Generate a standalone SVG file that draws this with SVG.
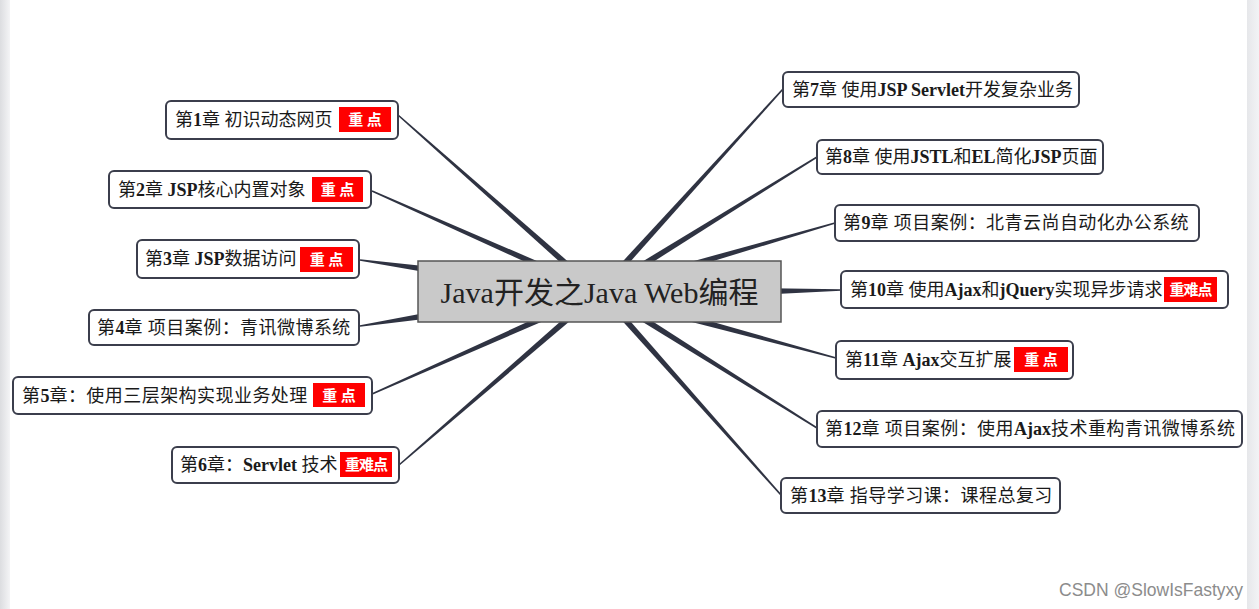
<svg xmlns="http://www.w3.org/2000/svg" width="1259" height="609" viewBox="0 0 1259 609">
<defs>
<linearGradient id="lg" x1="0" x2="1" y1="0" y2="0"><stop offset="0" stop-color="#dcdde0"/><stop offset="1" stop-color="#f4f4f6"/></linearGradient>
<linearGradient id="rg" x1="0" x2="1" y1="0" y2="0"><stop offset="0" stop-color="#e6e7ea"/><stop offset="1" stop-color="#f2f3f5"/></linearGradient>
</defs>
<style>
.box{fill:#fff;stroke:#3b3e4c;stroke-width:2}
.t{font-family:"Liberation Serif","Noto Sans CJK SC",serif;font-size:18px;fill:#1a1a1a}
.s{letter-spacing:0.45px}
.b{font-weight:bold;letter-spacing:0}
.bd{fill:#ff0000}
.bt{font-family:"Noto Sans CJK SC","Liberation Sans",sans-serif;font-size:15px;font-weight:bold;fill:#fff;text-anchor:middle}
.c{fill:#2f3342}
</style>
<rect x="0" y="0" width="1259" height="609" fill="#fff"/>
<rect x="0" y="0" width="10" height="609" fill="url(#lg)"/>
<rect x="1247" y="0" width="12" height="609" fill="url(#rg)"/>
<g id="connectors">
<polygon class="c" points="572.5,265.4 398.5,114.4 397.5,115.6 568.5,269.8"/>
<polygon class="c" points="540.3,262.4 372.3,190.3 371.7,191.7 537.9,267.8"/>
<polygon class="c" points="428.3,266.4 360.1,259.2 359.9,260.8 427.5,272.4"/>
<polygon class="c" points="427.4,312.5 359.9,325.2 360.1,326.8 428.4,318.5"/>
<polygon class="c" points="539.9,316.2 371.7,393.3 372.3,394.7 542.3,321.6"/>
<polygon class="c" points="568.6,314.2 398.5,464.4 399.5,465.6 572.6,318.8"/>
<polygon class="c" points="622.5,270.4 783.6,89.5 782.4,88.5 618.1,266.4"/>
<polygon class="c" points="642.1,268.9 817.4,157.7 816.6,156.3 638.9,263.7"/>
<polygon class="c" points="685.6,269.5 835.2,223.8 834.8,222.2 684.0,263.7"/>
<polygon class="c" points="771.1,294.2 841,290.8 841,289.2 770.9,288.2"/>
<polygon class="c" points="686.9,320.7 835.8,358.8 836.2,357.2 688.5,314.9"/>
<polygon class="c" points="639.9,320.2 816.6,428.7 817.4,427.3 643.1,315.2"/>
<polygon class="c" points="619.2,317.5 780.4,495.5 781.6,494.5 623.6,313.5"/>
</g>
<g id="center">
<rect x="418" y="261" width="363" height="61" fill="#c9c9c9" stroke="#555" stroke-width="1.5"/>
<text x="599.5" y="303" font-family="Liberation Serif,Noto Sans CJK SC,serif" font-size="30" fill="#222" text-anchor="middle">Java开发之Java Web编程</text>
</g>
<g id="n1">
<rect class="box" x="166" y="101" width="232" height="38" rx="5"/>
<text class="t" x="175" y="126">第<tspan class="b">1</tspan>章 初识动态网页</text>
<rect class="bd" x="339" y="107" width="52" height="25"/><text class="bt" x="365" y="125">重 点</text>
</g>
<g id="n2">
<rect class="box" x="109" y="171" width="262" height="37" rx="5"/>
<text class="t" x="118" y="196">第<tspan class="b">2</tspan>章 <tspan class="b">JSP</tspan>核心内置对象</text>
<rect class="bd" x="312" y="177" width="51" height="25"/><text class="bt" x="337.5" y="195">重 点</text>
</g>
<g id="n3">
<rect class="box" x="137" y="240" width="222" height="38" rx="5"/>
<text class="t" x="145" y="265">第<tspan class="b">3</tspan>章 <tspan class="b">JSP</tspan>数据访问</text>
<rect class="bd" x="300" y="247" width="53" height="25"/><text class="bt" x="326.5" y="265">重 点</text>
</g>
<g id="n4">
<rect class="box" x="89" y="310" width="270" height="35" rx="5"/>
<text class="t s" x="97" y="334">第<tspan class="b">4</tspan>章 项目案例：青讯微博系统</text>
</g>
<g id="n5">
<rect class="box" x="13" y="377" width="359" height="37" rx="5"/>
<text class="t s" x="22" y="402">第<tspan class="b">5</tspan>章：使用三层架构实现业务处理</text>
<rect class="bd" x="313" y="383" width="52" height="24"/><text class="bt" x="339" y="401">重 点</text>
</g>
<g id="n6">
<rect class="box" x="172" y="447" width="227" height="36" rx="5"/>
<text class="t" x="180" y="471">第<tspan class="b">6</tspan>章：<tspan class="b">Servlet</tspan> 技术</text>
<rect class="bd" x="340" y="452" width="52" height="25"/><text class="bt" x="366" y="470" letter-spacing="-1">重难点</text>
</g>
<g id="n7">
<rect class="box" x="783" y="72" width="296" height="35" rx="5"/>
<text class="t" x="792" y="96">第<tspan class="b">7</tspan>章 使用<tspan class="b">JSP Servlet</tspan>开发复杂业务</text>
</g>
<g id="n8">
<rect class="box" x="817" y="140" width="286" height="34" rx="5"/>
<text class="t" x="825" y="163">第<tspan class="b">8</tspan>章 使用<tspan class="b">JSTL</tspan>和<tspan class="b">EL</tspan>简化<tspan class="b">JSP</tspan>页面</text>
</g>
<g id="n9">
<rect class="box" x="835" y="205" width="364" height="36" rx="5"/>
<text class="t s" x="843" y="229">第<tspan class="b">9</tspan>章 项目案例：北青云尚自动化办公系统</text>
</g>
<g id="n10">
<rect class="box" x="841" y="271" width="387" height="37" rx="5"/>
<text class="t" x="850" y="296">第<tspan class="b">10</tspan>章 使用<tspan class="b">Ajax</tspan>和<tspan class="b">jQuery</tspan>实现异步请求</text>
<rect class="bd" x="1164" y="277" width="53" height="25"/><text class="bt" x="1190.5" y="295" letter-spacing="-1">重难点</text>
</g>
<g id="n11">
<rect class="box" x="836" y="341" width="237" height="38" rx="5"/>
<text class="t" x="845" y="366">第<tspan class="b">11</tspan>章 <tspan class="b">Ajax</tspan>交互扩展</text>
<rect class="bd" x="1014" y="347" width="54" height="25"/><text class="bt" x="1041" y="365">重 点</text>
</g>
<g id="n12">
<rect class="box" x="817" y="411" width="425" height="36" rx="5"/>
<text class="t s" x="825" y="435">第<tspan class="b">12</tspan>章 项目案例：使用<tspan class="b">Ajax</tspan>技术重构青讯微博系统</text>
</g>
<g id="n13">
<rect class="box" x="781" y="478" width="279" height="35" rx="5"/>
<text class="t s" x="790" y="502">第<tspan class="b">13</tspan>章 指导学习课：课程总复习</text>
</g>
<text x="1059" y="596" font-family="Liberation Sans,Noto Sans,sans-serif" font-size="17.5" fill="#8c8c8c">CSDN @SlowIsFastyxy</text>
</svg>
